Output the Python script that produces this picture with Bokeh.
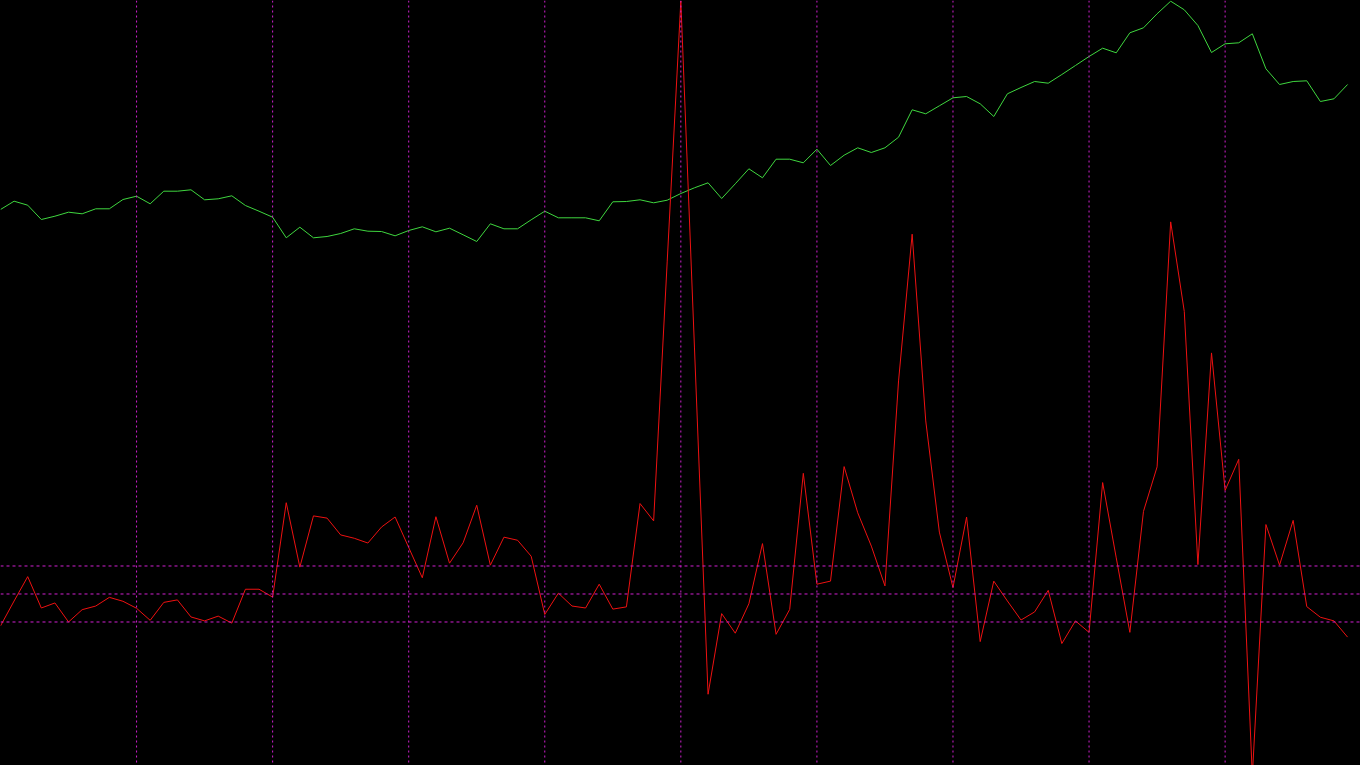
from bokeh.plotting import figure
from bokeh.models import Range1d, Span
from bokeh.embed import file_html
from bokeh.resources import INLINE

# index of each bar (period)
index = list(range(100))

# upper series (price-like), arbitrary units
price = [55.6, 56.43, 56.03, 54.6, 54.93, 55.33, 55.17, 55.67, 55.67, 56.6,
         56.93, 56.17, 57.43, 57.43, 57.57, 56.57, 56.67, 56.97, 56.0, 55.43,
         54.83, 52.77, 53.83, 52.77, 52.9, 53.2, 53.67, 53.43, 53.4, 52.97,
         53.5, 53.87, 53.37, 53.73, 53.07, 52.4, 54.17, 53.67, 53.67, 54.57,
         55.43, 54.77, 54.77, 54.77, 54.47, 56.37, 56.4, 56.57, 56.27, 56.53,
         57.2, 57.77, 58.27, 56.7, 58.17, 59.67, 58.77, 60.63, 60.63, 60.27,
         61.63, 60.0, 61.03, 61.77, 61.3, 61.77, 62.83, 65.57, 65.17, 65.97,
         66.77, 66.9, 66.17, 64.9, 67.17, 67.8, 68.4, 68.23, 69.1, 70.0,
         70.9, 71.73, 71.27, 73.27, 73.77, 75.17, 76.43, 75.57, 74.0, 71.3,
         72.17, 72.27, 73.17, 69.67, 68.1, 68.4, 68.47, 66.4, 66.67, 68.1]

# lower series (oscillator), arbitrary units
osc = [-1.14, -0.25, 0.62, -0.50, -0.32, -1.00, -0.56, -0.43, -0.12, -0.26,
       -0.51, -0.94, -0.30, -0.21, -0.82, -0.96, -0.79, -1.04, 0.17, 0.17,
       -0.11, 3.26, 0.96, 2.79, 2.71, 2.11, 1.99, 1.82, 2.39, 2.75,
       1.66, 0.58, 2.76, 1.10, 1.83, 3.17, 1.03, 2.03, 1.92, 1.35,
       -0.73, 0.03, -0.43, -0.50, 0.35, -0.54, -0.46, 3.23, 2.61, 11.89,
       21.18, 8.82, -3.58, -0.70, -1.40, -0.35, 1.80, -1.44, -0.55, 4.31,
       0.35, 0.46, 4.55, 2.90, 1.71, 0.29, 7.61, 12.85, 6.18, 2.21,
       0.23, 2.75, -1.70, 0.46, -0.25, -0.93, -0.64, 0.13, -1.77, -0.96,
       -1.37, 3.98, 1.29, -1.37, 2.95, 4.54, 13.29, 10.09, 1.05, 8.61,
       3.70, 4.81, -6.50, 2.48, 1.03, 2.63, -0.45, -0.83, -0.96, -1.54]

# reference levels
levels = [1.0, 0.0, -1.0]
vgrid = [10, 20, 30, 40, 50, 60, 70, 80, 90]

W, H = 1360, 765

p = figure(width=W, height=H, x_range=Range1d(0, 99.95),
           y_range=Range1d(-6.125, 21.196),
           toolbar_location=None, output_backend="svg",
           background_fill_color="#000000", border_fill_color="#000000",
           min_border=0, min_border_left=0, min_border_right=0,
           min_border_top=0, min_border_bottom=0)
p.extra_y_ranges = {"price": Range1d(0, 76.5)}
p.axis.visible = False
p.xgrid.visible = False
p.ygrid.visible = False
p.outline_line_color = None

grid_color = "#d020d0"
for g in vgrid:
    p.add_layout(Span(location=g, dimension="height", line_color=grid_color,
                      line_width=1, line_dash="2 3"))
for lv in levels:
    p.add_layout(Span(location=lv, dimension="width", line_color=grid_color,
                      line_width=1, line_dash="3 3"))

p.line(index, price, y_range_name="price", line_color="#3fd63f", line_width=1)
p.line(index, osc, line_color="#ee1111", line_width=1)

html = file_html(p, INLINE)
html = html.replace("</head>", "<style>html,body{margin:0;padding:0;background:#000000;overflow:hidden;}</style></head>", 1)
open("out.html", "w").write(html)
